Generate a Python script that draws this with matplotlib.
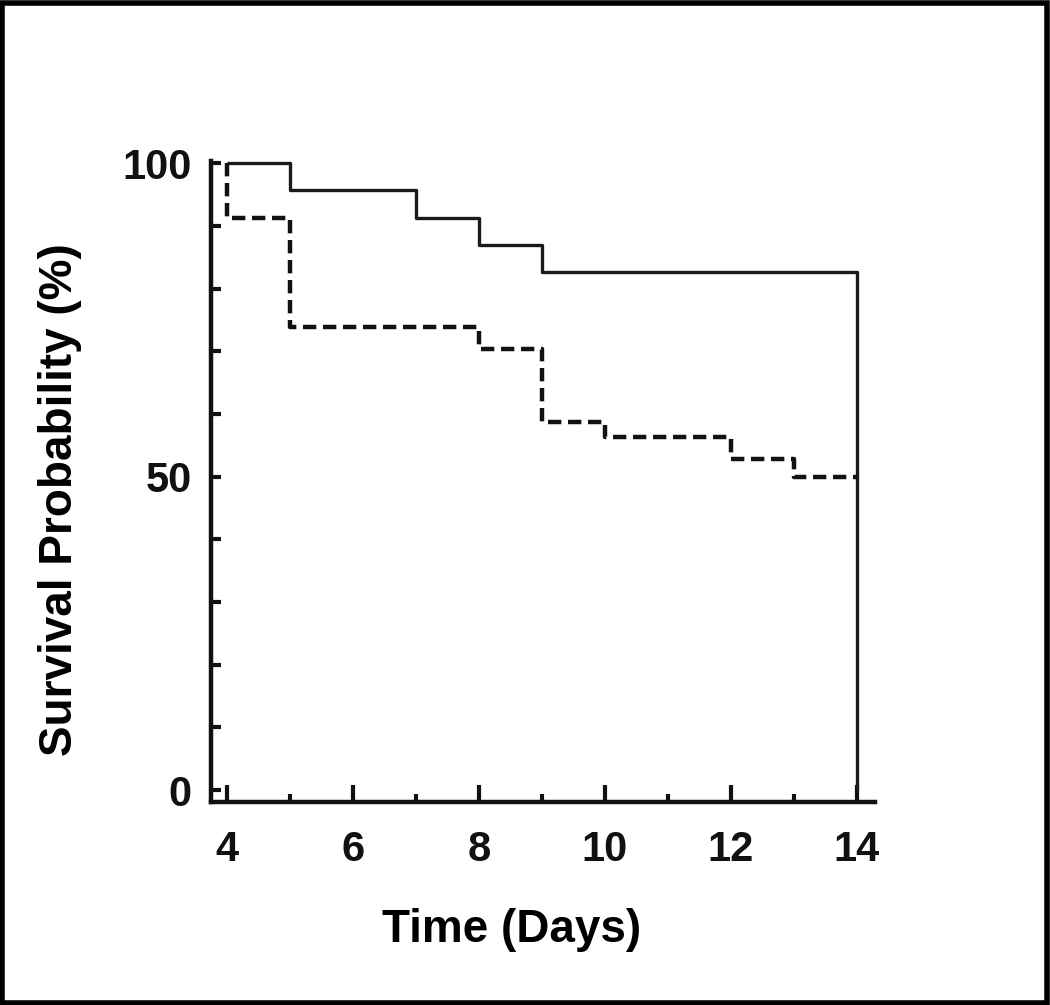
import matplotlib
matplotlib.use("Agg")
import matplotlib.pyplot as plt
from matplotlib.patches import Rectangle

plt.rcParams['font.family'] = ['Liberation Sans', 'DejaVu Sans']
plt.rcParams['font.weight'] = 'bold'

# Kaplan-Meier step data (time in days, survival %)
solid_time = [4, 5, 7, 8, 9, 14, 14]
solid_surv = [100, 95.7, 91.3, 87.0, 82.6, 82.6, 0]

dashed_time = [4, 4, 5, 8, 9, 10, 12, 13, 14]
dashed_surv = [100, 91.3, 73.9, 70.4, 58.7, 56.3, 52.8, 49.9, 49.9]

x_major = [4, 6, 8, 10, 12, 14]
x_minor = [5, 7, 9, 11, 13]
y_ticks = [0, 10, 20, 30, 40, 50, 60, 70, 80, 90, 100]
y_labels = ['0', '', '', '', '', '50', '', '', '', '', '100']

fig = plt.figure(figsize=(10.5, 10.05), dpi=100)
fig.patch.set_facecolor('white')
fig.add_artist(Rectangle((0.002, 0.002), 0.995, 0.995, transform=fig.transFigure,
                         fill=False, edgecolor='black', linewidth=4))

ax = fig.add_axes([0.201, 0.202, 0.632, 0.638])
ax.step(solid_time, solid_surv, where='post', color='#1a1a1a', linewidth=2.4,
        solid_capstyle='butt')
ln, = ax.step(dashed_time, dashed_surv, where='post', color='#111111', linewidth=3.2)
ln.set_dashes((3.0, 1.5))

ax.set_xlim(3.745, 14.285)
ax.set_ylim(-1.9, 100.4)

for s in ['top', 'right']:
    ax.spines[s].set_visible(False)
for s in ['left', 'bottom']:
    ax.spines[s].set_linewidth(3.2)
    ax.spines[s].set_color('#111111')

ax.set_xticks(x_major)
ax.set_xticklabels([str(v) for v in x_major])
ax.set_xticks(x_minor, minor=True)
ax.set_yticks(y_ticks)
ax.set_yticklabels(y_labels)

ax.tick_params(axis='x', which='major', direction='in', length=12, width=3,
               pad=20, colors='#111111')
ax.tick_params(axis='x', which='minor', direction='in', length=6, width=3,
               colors='#111111')
ax.tick_params(axis='y', which='major', direction='in', length=7, width=3,
               pad=14, colors='#111111')
for lab in ax.get_xticklabels() + ax.get_yticklabels():
    lab.set_fontweight('bold')
    lab.set_fontsize(30)

fig.text(512 / 1050, 1 - 930 / 1005, 'Time (Days)', ha='center', va='center',
         fontsize=33, fontweight='bold')
fig.text(60 / 1050, 1 - 500 / 1005, 'Survival Probability (%)', ha='center',
         va='center', rotation=90, fontsize=33, fontweight='bold')

fig.savefig('out.png', dpi=100, facecolor='white')
